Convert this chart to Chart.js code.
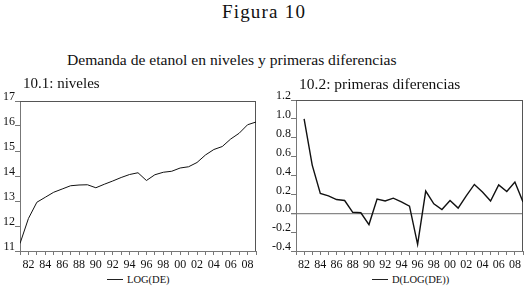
<!DOCTYPE html>
<html>
<head>
<meta charset="utf-8">
<script src="https://cdn.jsdelivr.net/npm/chart.js@4/dist/chart.umd.min.js"></script>
<style>
  html, body { margin:0; padding:0; background:#fff; }
  body { width:528px; height:290px; position:relative; overflow:hidden; font-family:"Liberation Serif", serif; color:#111; }
  .t { position:absolute; white-space:nowrap; z-index:2; }
  canvas { position:absolute; z-index:1; }
  .lg { position:absolute; height:0; border-top:1px solid #222; width:16px; }
</style>
</head>
<body>
<div class="t" id="fig" style="left:0; width:528px; text-align:center; top:2px; font-size:19px; line-height:19px; letter-spacing:1.2px;">Figura 10</div>
<div class="t" style="left:67px; top:52px; font-size:15.6px; line-height:15.6px;">Demanda de etanol en niveles y primeras diferencias</div>
<div class="t" style="left:23px; top:76px; font-size:15px; line-height:15px;">10.1: niveles</div>
<div class="t" style="left:299px; top:76px; font-size:15.5px; line-height:15.5px;">10.2: primeras diferencias</div>
<canvas id="c1" width="264" height="186" style="left:0; top:85px;"></canvas>
<canvas id="c2" width="264" height="186" style="left:264px; top:85px;"></canvas>
<div class="lg" style="left:107px; top:279px;"></div>
<div class="t" style="left:127px; top:275px; font-size:10.5px; line-height:10.5px;">LOG(DE)</div>
<div class="lg" style="left:372px; top:279px;"></div>
<div class="t" style="left:392px; top:275px; font-size:10.5px; line-height:10.5px;">D(LOG(DE))</div>
<script>
// ---- data ----
const yearsLevel = [1981,1982,1983,1984,1985,1986,1987,1988,1989,1990,1991,1992,1993,1994,1995,1996,1997,1998,1999,2000,2001,2002,2003,2004,2005,2006,2007,2008,2009];
const logDE = [11.30,12.30,12.95,13.15,13.35,13.48,13.61,13.64,13.65,13.53,13.67,13.80,13.94,14.06,14.13,13.82,14.05,14.15,14.19,14.32,14.37,14.54,14.84,15.06,15.18,15.48,15.71,16.05,16.16];
const yearsDiff = [1982,1983,1984,1985,1986,1987,1988,1989,1990,1991,1992,1993,1994,1995,1996,1997,1998,1999,2000,2001,2002,2003,2004,2005,2006,2007,2008,2009];
const dLogDE = [1.00,0.51,0.21,0.185,0.145,0.135,0.01,0.005,-0.12,0.15,0.13,0.16,0.12,0.075,-0.33,0.235,0.10,0.04,0.135,0.055,0.185,0.305,0.225,0.13,0.30,0.23,0.33,0.12];
const leftTicks = {min:11, max:17, step:1};
const rightTicks = {min:-0.4, max:1.2, step:0.2};
const yearMin = 1981, yearMax = 2009;

const FONT = {family:'"Liberation Serif", serif', size:12};

const framePlugin = {
  id:'frame',
  beforeDatasetsDraw(chart){
    const a = chart.chartArea, ctx = chart.ctx;
    ctx.save();
    ctx.strokeStyle = '#555';
    ctx.lineWidth = 1;
    ctx.beginPath();
    ctx.moveTo(a.left, a.top+0.5); ctx.lineTo(a.right, a.top+0.5);
    ctx.moveTo(a.right-0.5, a.top); ctx.lineTo(a.right-0.5, a.bottom);
    ctx.stroke();
    ctx.restore();
  }
};

function xAxis(){
  return {
    type:'linear', min:yearMin, max:yearMax, offset:false,
    afterFit(s){ s.height = 20; },
    border:{display:true, color:'#777', width:1},
    grid:{drawOnChartArea:false, tickLength:4, color:'#777', tickColor:'#777'},
    ticks:{stepSize:1, autoSkip:false, maxRotation:0, minRotation:0, padding:3, color:'#111', font:FONT,
      callback(v){ return (v % 2 === 0) ? String(v % 100).padStart(2,'0') : ''; }}
  };
}

function makeChart(id, years, vals, yt, yWidth, padRight, padTop, lw, zeroLine, fmt){
  const pts = years.map((y,i)=>({x:y, y:vals[i]}));
  new Chart(document.getElementById(id), {
    type:'line',
    data:{datasets:[{data:pts, borderColor:'#111', borderWidth:lw, pointRadius:0, tension:0, fill:false}]},
    options:{
      responsive:false, animation:false, maintainAspectRatio:false,
      layout:{padding:{left:0, right:padRight, top:padTop, bottom:0}},
      plugins:{legend:{display:false}, tooltip:{enabled:false}},
      scales:{
        x:xAxis(),
        y:{
          min:yt.min, max:yt.max,
          afterFit(s){ s.width = yWidth; },
          border:{display:true, color:'#777', width:1},
          grid:{
            drawOnChartArea:zeroLine, tickLength:5, tickColor:'#777',
            color(c){ return (zeroLine && c.tick && Math.abs(c.tick.value) < 1e-9) ? '#888' : 'rgba(0,0,0,0)'; },
            lineWidth(c){ return (zeroLine && c.tick && Math.abs(c.tick.value) < 1e-9) ? 1.3 : 1; }
          },
          ticks:{stepSize:yt.step, padding:0, labelOffset:-4, color:'#111', font:FONT, callback:fmt}
        }
      }
    },
    plugins:[framePlugin]
  });
}

makeChart('c1', yearsLevel, logDE, leftTicks, 20, 8, 16, 1, false, v=>String(Math.round(v)));
makeChart('c2', yearsDiff, dLogDE, rightTicks, 32, 5, 15, 1.4, true, v=>(Math.abs(v)<1e-9?0:v).toFixed(1));
</script>
</body>
</html>
